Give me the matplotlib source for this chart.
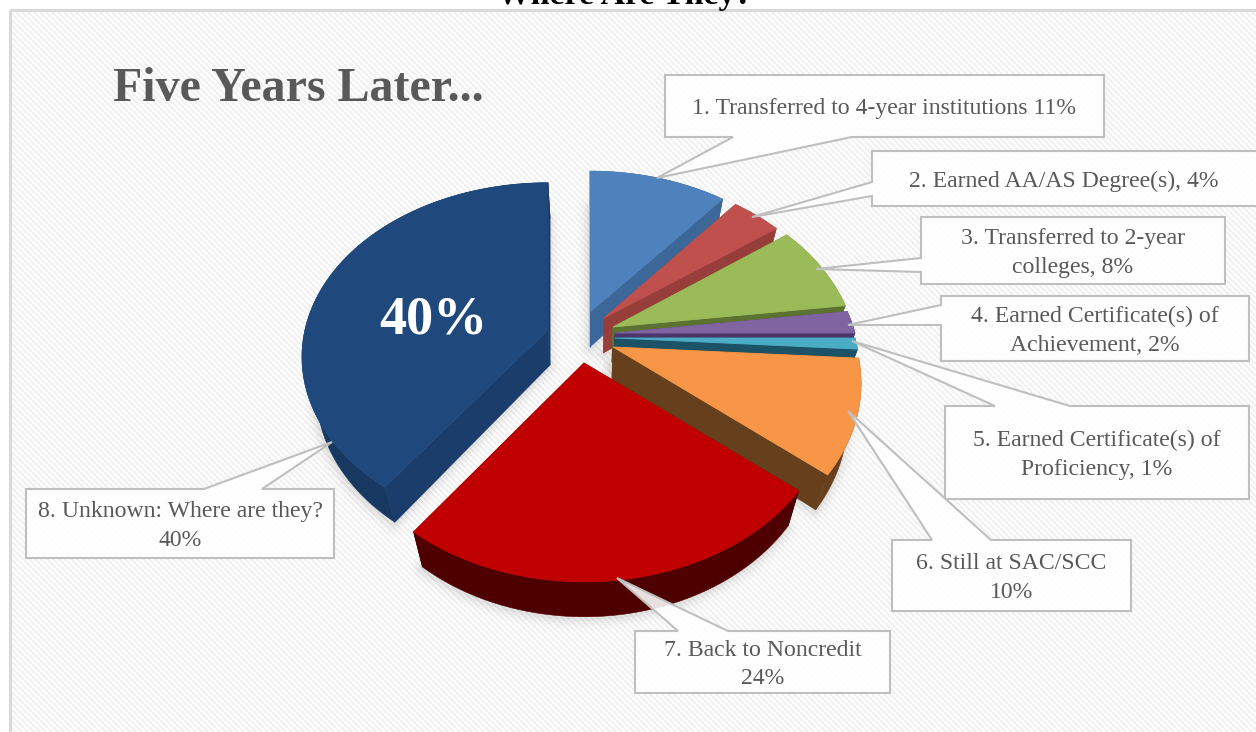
import numpy as np
import matplotlib
matplotlib.use("Agg")
import matplotlib.pyplot as plt
from matplotlib.patches import Polygon, Rectangle
from matplotlib.collections import LineCollection

plt.rcParams['font.family'] = ['Liberation Serif', 'DejaVu Serif']

# Share of students per outcome, in percent, clockwise from twelve o'clock
outcomes = ["1. Transferred to 4-year institutions 11%",
            "2. Earned AA/AS Degree(s), 4%",
            "3. Transferred to 2-year\ncolleges, 8%",
            "4. Earned Certificate(s) of\nAchievement, 2%",
            "5. Earned Certificate(s) of\nProficiency, 1%",
            "6. Still at SAC/SCC\n10%",
            "7. Back to Noncredit\n24%",
            "8. Unknown: Where are they?\n40%"]
shares = [11, 4, 8, 2, 1, 10, 24, 40]

# Slice styling: top colour, cut-face colour, rim colour
top_colors = ['#4f81bd', '#c0504d', '#9bbb59', '#8064a2', '#4bacc6', '#f79646', '#c00000', '#1f497d']
cut_colors = ['#3c6799', '#973e3b', '#5c7230', '#4b3569', '#1c5266', '#66401c', '#5a0000', '#1a3d6b']
rim_colors = ['#3c6799', '#973e3b', '#5c7230', '#4b3569', '#1c5266', '#66401c', '#4e0000', '#173860']

# Pixel position of each slice's apex after being pulled out of the pie
apex = [(590, 312), (604, 318), (613, 327), (615, 333), (615, 338), (613, 347), (584, 363), (548, 330)]
# Disc radii and perspective strength per slice
radius_x = [240, 238, 240, 240, 240, 243, 243, 243]
radius_y = [169, 170, 175, 175, 175, 175, 175, 170]
persp = [.20, .20, .20, .20, .20, .20, .20, .155]
paint_order = [0, 1, 2, 3, 4, 5, 7, 6]

# Extrusion depth and its convergence towards the vanishing column
DEPTH, VANISH_X, DEPTH_SCALE = 35.0, 590.0, 0.95

# Callout boxes: left, top, right, bottom, arrow tip, the two arrow roots
callouts = [
    ((665, 75, 1104, 137), (657, 178), (733, 137), (852, 137)),
    ((872, 151, 1275, 206), (752, 217), (872, 182), (872, 196)),
    ((921, 217, 1225, 284), (816, 269), (921, 258), (921, 272)),
    ((941, 296, 1249, 361), (848, 325), (941, 305), (941, 325)),
    ((945, 406, 1249, 499), (852, 341), (995, 406), (1070, 406)),
    ((892, 540, 1131, 611), (848, 411), (932, 540), (991, 540)),
    ((635, 631, 890, 693), (617, 578), (678, 631), (728, 631)),
    ((26, 489, 334, 558), (332, 442), (204, 489), (262, 489)),
]
GREY_TEXT = '#595959'
GREY_LINE = '#bfbfbf'


def project(theta, i):
    """Map a rim angle (radians, clockwise from the top) to a pixel offset from slice i's apex."""
    u, v = np.sin(theta), -np.cos(theta)
    w = 1 - persp[i] * v
    return radius_x[i] * u / w, radius_y[i] * v / w


def extrude(pts):
    out = np.array(pts, dtype=float)
    out[:, 0] = VANISH_X + (out[:, 0] - VANISH_X) * DEPTH_SCALE
    out[:, 1] += DEPTH
    return out


fig = plt.figure(figsize=(12.56, 7.32), dpi=100)
ax = fig.add_axes([0, 0, 1, 1])
ax.set_xlim(0, 1256)
ax.set_ylim(732, 0)
ax.axis('off')

# Diagonal pinstripe background inside the frame
frame = Rectangle((10, 10), 1300, 760, facecolor='white', edgecolor='none', zorder=0)
ax.add_patch(frame)
stripe_x = np.arange(-800, 1300, 6.0)
stripes = LineCollection([[(x, 0), (x + 800, 800)] for x in stripe_x],
                         colors='#f0f0f0', linewidths=1.4, zorder=0.5)
ax.add_collection(stripes)
stripes.set_clip_path(frame)
ax.add_patch(Rectangle((10, 10), 1300, 760, facecolor='none', edgecolor='#d9d9d9',
                       linewidth=2.2, zorder=1))

# Work out each slice's outline from the shares
edges = np.cumsum([0] + shares) / sum(shares) * 2 * np.pi
slices = []
for i in range(len(shares)):
    t = np.linspace(edges[i], edges[i + 1], max(8, int(shares[i] * 3)))
    dx, dy = project(t, i)
    slices.append(np.column_stack([apex[i][0] + dx, apex[i][1] + dy]))

# Soft shadows underneath the pie
for i in paint_order:
    outline = np.vstack([[apex[i]], slices[i]])
    low = extrude(outline)
    for lw, a in [(16, .012), (11, .018), (7, .025), (3, .04)]:
        ax.add_patch(Polygon(low + [-1, 2], closed=True, facecolor='none', edgecolor='black',
                             linewidth=lw, alpha=a, joinstyle='round', zorder=2))

# Back-to-front painting so nearer slices cover the walls behind them
z = 3
for i in paint_order:
    rim = slices[i]
    tip = np.array([apex[i]], dtype=float)
    low_rim, low_tip = extrude(rim), extrude(tip)
    first = np.array([tip[0], rim[0], low_rim[0], low_tip[0]])
    last = np.array([tip[0], rim[-1], low_rim[-1], low_tip[0]])
    band = np.vstack([rim, low_rim[::-1]])
    ax.add_patch(Polygon(first, closed=True, fc=cut_colors[i], ec=cut_colors[i], lw=.4, zorder=z))
    ax.add_patch(Polygon(last, closed=True, fc=cut_colors[i], ec=cut_colors[i], lw=.4, zorder=z))
    ax.add_patch(Polygon(band, closed=True, fc=rim_colors[i], ec=rim_colors[i], lw=.4, zorder=z))
    ax.add_patch(Polygon(np.vstack([tip, rim]), closed=True, fc=top_colors[i], ec=top_colors[i],
                         lw=.6, zorder=z + 0.5))
    z += 1

# Callouts with pointers; the outline walks clockwise and detours to the tip on the rooted side
for text, (box, tip, r0, r1) in zip(outcomes, callouts):
    l, t, r, b = box
    if r0[0] == l:
        path = [(l, t), (r, t), (r, b), (l, b), r1, tip, r0]
    elif r0[1] == b:
        path = [(l, t), (r, t), (r, b), r1, tip, r0, (l, b)]
    else:
        path = [(l, t), r0, tip, r1, (r, t), (r, b), (l, b)]
    ax.add_patch(Polygon(path, closed=True, facecolor=(1, 1, 1, .88), edgecolor=GREY_LINE,
                         linewidth=1.5, zorder=20))
    cx = (l + r) / 2 if r < 1256 else 1064
    ax.text(cx, (t + b) / 2 + 2.5, text, ha='center', va='center', color=GREY_TEXT,
            fontsize=17.1, linespacing=1.47, zorder=21)

ax.text(113, 101, "Five Years Later...", fontsize=34.6, fontweight='bold', color=GREY_TEXT,
        va='baseline', zorder=21)
ax.text(433, 334, "40%", fontsize=39, fontweight='bold', color='white', ha='center',
        va='baseline', zorder=21)
ax.text(625, 4, "Where Are They?", fontsize=24.3, fontweight='bold', color='black', ha='center',
        va='baseline', zorder=21)

fig.savefig('out.png', dpi=100)
